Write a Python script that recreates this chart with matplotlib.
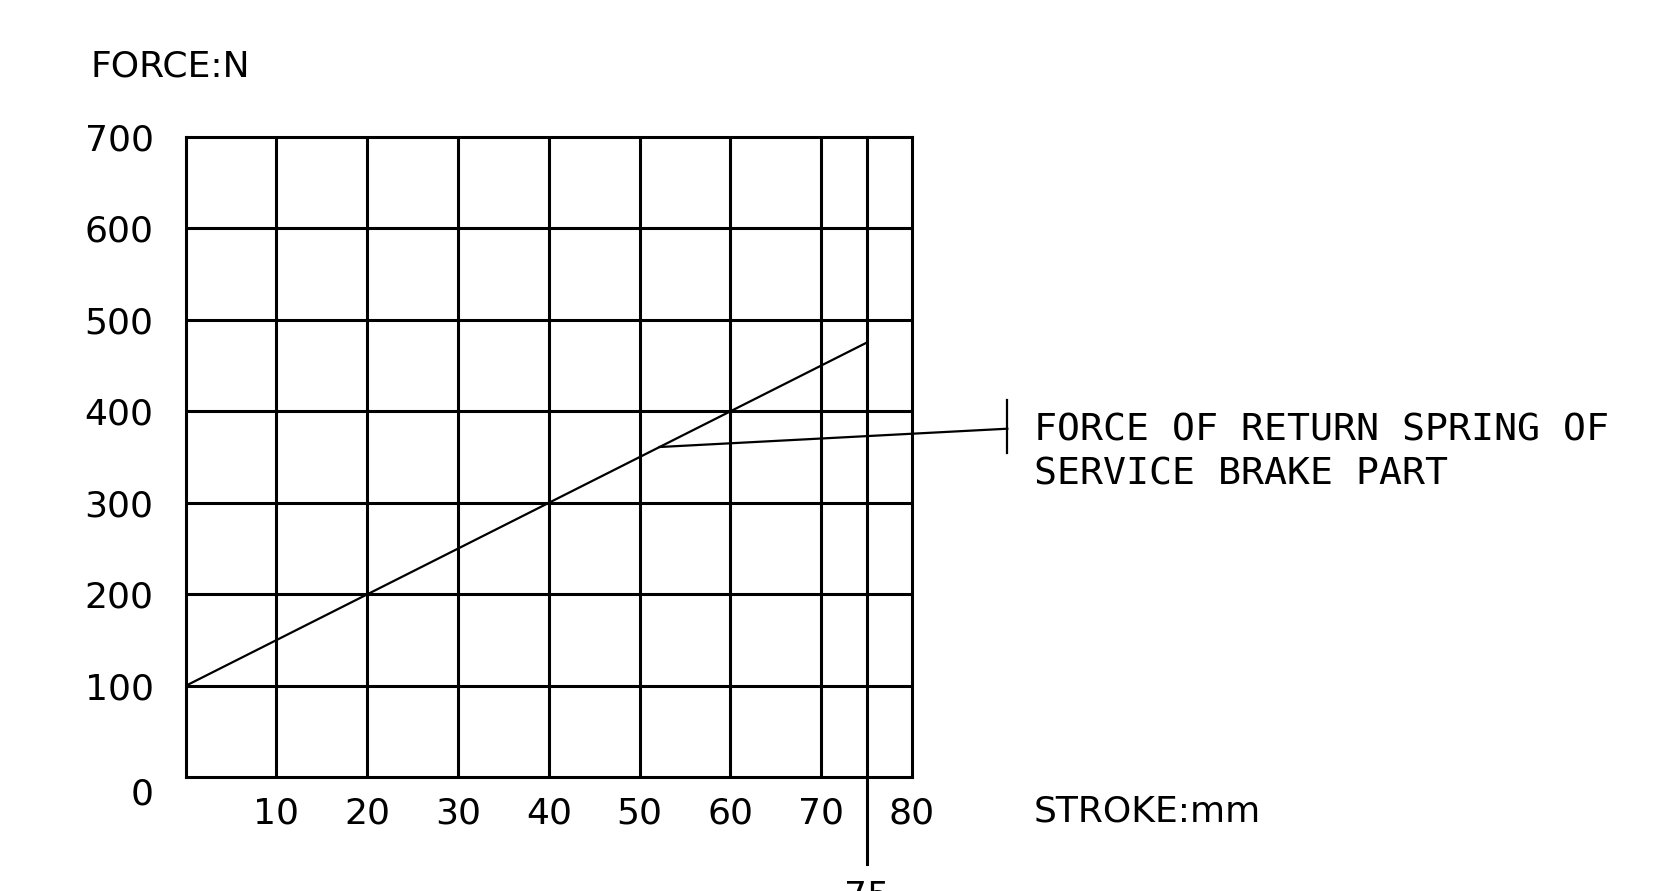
import matplotlib.pyplot as plt
import numpy as np

# spring force vs stroke
stroke = [0, 75]
force = [100, 475]

x_ticks = [10, 20, 30, 40, 50, 60, 70, 80]
y_ticks = [0, 100, 200, 300, 400, 500, 600, 700]
max_stroke = 75
leader_stroke = 52.2
label_lines = ['FORCE OF RETURN SPRING OF', 'SERVICE BRAKE PART']

fig = plt.figure(figsize=(16.63, 8.91), dpi=100)
ax = fig.add_axes([0.1116, 0.1275, 0.4368, 0.719])
ax.set_xlim(0, 80)
ax.set_ylim(0, 700)

lw_grid = 2.2
for s in ax.spines.values():
    s.set_linewidth(lw_grid)

# grid drawn by hand so the 75 line can run past the frame
for x in x_ticks[:-1]:
    ax.axvline(x, color='black', lw=lw_grid, zorder=1)
for y in y_ticks[1:-1]:
    ax.axhline(y, color='black', lw=lw_grid, zorder=1)
ax.plot([max_stroke, max_stroke], [-95, 700], color='black', lw=lw_grid,
        clip_on=False, zorder=1)
ax.text(max_stroke, -112, str(max_stroke), ha='center', va='top', fontsize=26,
        clip_on=False)

ax.plot(stroke, force, color='black', lw=1.6, zorder=2)

# leader line to the label
fy = np.interp(leader_stroke, stroke, force)
ax.plot([leader_stroke, 90.5], [fy, 381], color='black', lw=1.6, clip_on=False)
ax.plot([90.5, 90.5], [355, 412], color='black', lw=1.6, clip_on=False)
ax.text(93.4, 379, label_lines[0], ha='left', va='center', fontsize=27.5,
        family='DejaVu Sans Mono', clip_on=False)
ax.text(93.4, 331, label_lines[1], ha='left', va='center', fontsize=27.5,
        family='DejaVu Sans Mono', clip_on=False)

ax.set_xticks(x_ticks)
ax.set_xticklabels([str(v) for v in x_ticks], fontsize=26)
ax.set_yticks(y_ticks)
ax.set_yticklabels([str(v) for v in y_ticks], fontsize=26)
ax.tick_params(length=0)
ax.tick_params(axis='x', pad=14)
ax.tick_params(axis='y', pad=23)
ax.get_yticklabels()[0].set_va('top')

ax.text(-10.5, 777, 'FORCE:N', ha='left', va='center', fontsize=26, clip_on=False)
ax.text(93.4, -37, 'STROKE:mm', ha='left', va='center', fontsize=26, clip_on=False)

fig.savefig('out.png', dpi=100)
